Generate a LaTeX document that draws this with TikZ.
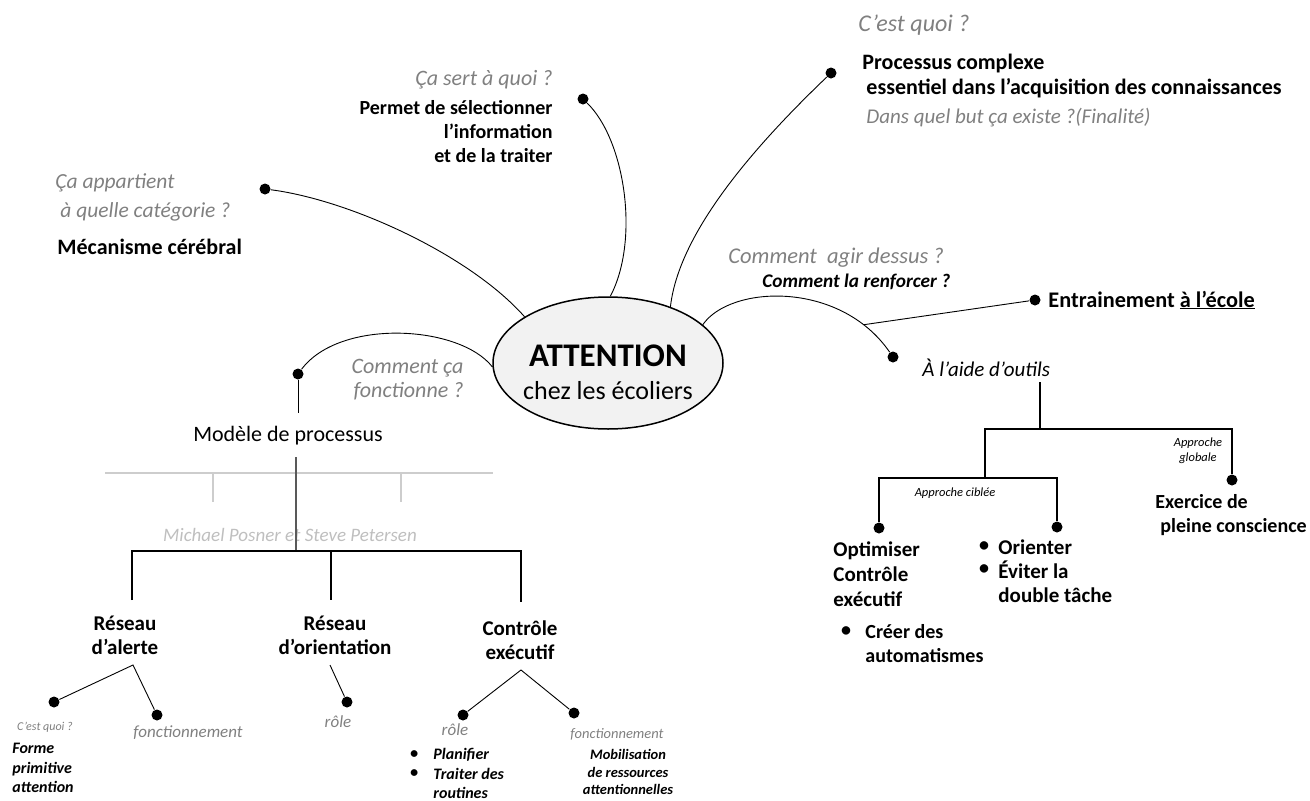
\documentclass[tikz,border=0pt]{standalone}
\usepackage{fontspec}
\setmainfont{Carlito}
\usepackage{tikz}
\usetikzlibrary{positioning,shapes.geometric}
\definecolor{qgray}{RGB}{128,128,128}
\definecolor{mgray}{RGB}{191,191,191}
\definecolor{egray}{RGB}{242,242,242}
\definecolor{lgray}{RGB}{205,205,205}
\definecolor{dgray}{RGB}{89,89,89}
\tikzset{%
	ndot/.style={circle, fill=black, inner sep=0pt, minimum size=11pt},
	qst/.style={%
		text=qgray,
		inner sep=0pt,
		font=\fontsize{22}{26}\selectfont\itshape
	},
	lbl/.style={inner sep=0pt, font=\fontsize{20}{24}\selectfont\bfseries},
	big/.style={inner sep=0pt, font=\fontsize{22}{26}\selectfont\bfseries},
	net/.style={inner sep=0pt, align=center, font=\fontsize{21}{24}\selectfont\bfseries},
	bit/.style={inner sep=0pt, font=\fontsize{16}{19.5}\selectfont\bfseries\itshape},
	smallq/.style={inner sep=0pt, font=\fontsize{12.5}{15}\selectfont\itshape},
	treeln/.style={line width=1.2pt}
}
\begin{document}
\begin{tikzpicture}[x=1pt, y=-1pt, line width=0.9pt]
	\useasboundingbox (0,0) rectangle (1310,801);
	% centre
	\node[ellipse, draw, line width=1.5pt, fill=egray, minimum width=230pt, minimum height=132pt, inner sep=0pt] (att) at (608,363) {};
	\node[inner sep=0pt, font=\fontsize{33}{33}\selectfont\bfseries] (attT) at (608,356) {ATTENTION};
	\node[inner sep=0pt, font=\fontsize{26}{26}\selectfont] (attS) at (608,391) {chez les écoliers};

	\node[ndot] (d1) at (265,189) {};
	\node[ndot] (d2) at (583,99) {};
	\node[ndot] (d3) at (831,73) {};
	\node[ndot] (d4) at (893,357) {};
	\node[ndot] (d5) at (298,374) {};
	\node[ndot] (de) at (1035,300) {};

	\draw (d1) .. controls (350,200) and (470,255) .. (att.151);
	\draw (d2) .. controls (625,140) and (640,240) .. (att.88);
	\draw (att.42) .. controls (678,240) and (740,160) .. (d3);
	\draw (att.22) .. controls (730,285) and (840,280) .. coordinate[pos=0.85] (ent) (d4);
	\draw (ent) -- (de);
	\draw (att.182) .. controls (460,325) and (340,318) .. (d5);

	% questions et reponses
	\node[qst, anchor=east] (q2) at (553,80) {Ça sert à quoi ?};
	\node[lbl, align=right, anchor=east] (t2) at (553,132) {Permet de sélectionner\\l’information\\et de la traiter};
	\node[qst, align=left, anchor=west, font=\fontsize{21.5}{29}\selectfont\itshape] (q1) at (55,197) {Ça appartient\\\hspace*{5pt}à quelle catégorie ?};
	\node[big, anchor=west] (t1) at (57,247) {Mécanisme cérébral};
	\node[qst, anchor=west, font=\fontsize{24}{28}\selectfont\itshape] (q3) at (858,25) {C’est quoi ?};
	\node[big, align=left, anchor=west, font=\fontsize{22}{25.5}\selectfont\bfseries] (t3) at (862,76) {Processus complexe\\\hspace*{4pt}essentiel dans l’acquisition des connaissances};
	\node[qst, anchor=west, font=\fontsize{21}{25}\selectfont\itshape] (q3b) at (866,118) {Dans quel but ça existe ?(Finalité)};
	\node[qst, anchor=west, font=\fontsize{22.5}{26}\selectfont\itshape] (q4) at (728,258) {Comment\ \ agir dessus ?};
	\node[anchor=west, inner sep=0pt, font=\fontsize{19.3}{23}\selectfont\bfseries\itshape] (t4) at (762,282) {Comment la renforcer ?};
	\node[anchor=west, inner sep=0pt, font=\fontsize{22.3}{26}\selectfont\bfseries] (ecole) at (1048,300) {Entrainement \underline{à l’école}};
	\node[anchor=west, inner sep=0pt, font=\fontsize{21}{25}\selectfont\itshape] (outils) at (922,368) {À l’aide d’outils};
	\node[qst, align=right, anchor=east, font=\fontsize{22}{24}\selectfont\itshape] (q5) at (464,380) {Comment ça\\fonctionne ?};

	% outils
	\coordinate (r0) at (1040,382);
	\coordinate (r1) at (1040,429);
	\coordinate (rA) at (985,429);
	\coordinate (rB) at (985,478);
	\node[ndot] (dglob) at (1232,480) {};
	\node[ndot] (dopt) at (879,528) {};
	\node[ndot] (dori) at (1057,527) {};
	\draw[treeln] (r0) -- (r1);
	\draw[treeln] (rB) -- (rA) -- (rA -| dglob) -- (dglob);
	\draw[treeln] (dopt) -- (dopt |- rB) -- (dori |- rB) -- (dori);
	\node[smallq] (cib) at (955,493) {Approche ciblée};
	\node[smallq, align=center] (glob) at (1198,451) {Approche\\globale};
	\node[lbl, align=left, anchor=west, font=\fontsize{21}{25}\selectfont\bfseries] (opt) at (833,574) {Optimiser\\Contrôle\\exécutif};
	\node[lbl] (b1) at (846,632) {•};
	\node[lbl, align=left, anchor=west] (auto) at (865,644) {Créer des\\automatismes};
	\node[lbl] (b2) at (984,547) {•};
	\node[lbl] (b3) at (984,570) {•};
	\node[lbl, anchor=west, font=\fontsize{21}{24}\selectfont\bfseries] (ori) at (998,547) {Orienter};
	\node[lbl, align=left, anchor=west, font=\fontsize{21}{24}\selectfont\bfseries] (evit) at (998,582) {Éviter la\\double tâche};
	\node[lbl, align=left, anchor=west] (exo) at (1155,515) {Exercice de\\\hspace*{5pt}pleine conscience};

	% modele de processus
	\coordinate (m0) at (298,413);
	\draw (d5) -- (m0);
	\node[inner sep=0pt, font=\fontsize{22}{26}\selectfont] (modele) at (288,436) {Modèle de processus};
	\draw[lgray, line width=1.2pt] (105,473) -- (493,473) (213,473) -- (213,502) (401,473) -- (401,502);
	\node[inner sep=0pt, text=mgray, font=\fontsize{19}{23}\selectfont\itshape] (auteurs) at (290,535) {Michael Posner et Steve Petersen};
	\draw[dgray, line width=1.2pt] (296,457) -- (296,552);
	\draw[treeln] (132,600) -- (132,551) -- (521,551) -- (521,602) (331,551) -- (331,600);
	\node[net] (alerte) at (125,635) {Réseau\\d’alerte};
	\node[net] (orient) at (335,635) {Réseau\\d’orientation};
	\node[net] (ctrl) at (520,640) {Contrôle\\exécutif};

	\coordinate (ja) at (133,665);
	\node[ndot] (dq) at (54,702) {};
	\node[ndot] (df) at (157,715) {};
	\draw (dq) -- (ja) -- (df);
	\coordinate (jo) at (330,665);
	\node[ndot] (dr) at (347,702) {};
	\draw (jo) -- (dr);
	\coordinate (jc) at (521,670);
	\node[ndot] (dr2) at (463,715) {};
	\node[ndot] (df2) at (574,713) {};
	\draw (dr2) -- (jc) -- (df2);

	\node[inner sep=0pt, text=qgray, font=\fontsize{12}{14}\selectfont\itshape] (cq) at (45,727) {C’est quoi ?};
	\node[qst, anchor=west, font=\fontsize{17}{20}\selectfont\itshape] (fa) at (133,733) {fonctionnement};
	\node[bit, align=left, anchor=west] (forme) at (12,768) {Forme\\primitive\\attention};
	\node[qst, font=\fontsize{17}{20}\selectfont\itshape] (ro) at (338,722) {rôle};
	\node[qst, font=\fontsize{17}{20}\selectfont\itshape] (rc) at (455,730) {rôle};
	\node[qst, font=\fontsize{14.5}{18}\selectfont\itshape] (fc) at (617,734) {fonctionnement};
	\node[bit] (b4) at (414,755) {•};
	\node[bit] (b5) at (414,774) {•};
	\node[bit, anchor=west] (plan) at (433,755) {Planifier};
	\node[bit, align=left, anchor=west] (rout) at (433,783.5) {Traiter des\\routines};
	\node[bit, align=center, font=\fontsize{14.5}{17.5}\selectfont\bfseries\itshape] (mob) at (628,772) {Mobilisation\\de ressources\\attentionnelles};
\end{tikzpicture}
\end{document}
